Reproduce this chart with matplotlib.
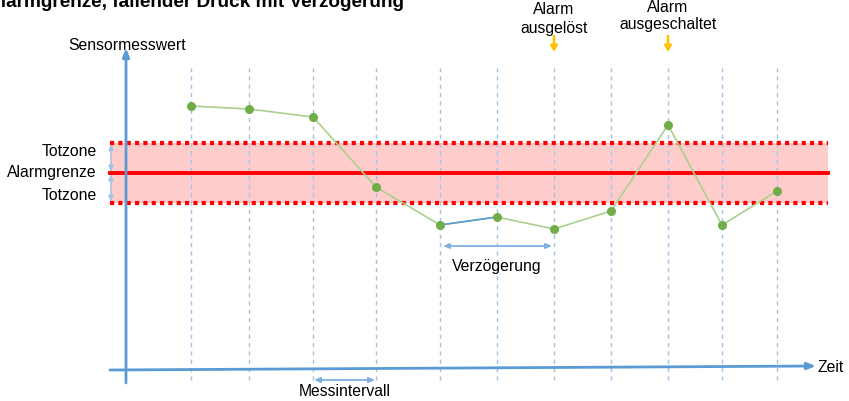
import matplotlib
matplotlib.use("Agg")
from matplotlib import pyplot as plt

plt.rcParams['font.family'] = ['Liberation Sans', 'DejaVu Sans']

# Messzeitpunkte und Sensorwerte
zeiten = [191, 249, 313, 376, 440, 497, 554, 611, 668, 722, 777]
werte = [262, 259, 251, 181, 143, 151, 139, 157, 243, 143, 177]
alarmgrenze = 195
totzone = 30
alarm_an = 554
alarm_aus = 668

blau = '#5b9bd5'
hellblau = '#9dc3e6'
gruen = '#70ad47'
hellgruen = '#a9d18e'
rot = '#ff0000'
orange = '#ffc000'
fs = 11.3

fig = plt.figure(figsize=(8.49, 4.01), dpi=100)
ax = fig.add_axes([0, 0, 1, 1])
ax.set_xlim(0, 849)
ax.set_ylim(-33, 368)
ax.axis('off')

# Totzone
ax.fill_between([110, 828], alarmgrenze - totzone, alarmgrenze + totzone,
                color='#ffcccc', lw=0, zorder=1)
for yy in (alarmgrenze - totzone, alarmgrenze + totzone):
    ax.plot([110, 828], [yy, yy], color=rot, lw=3, ls=(0, (1, 1)), zorder=3)
ax.plot([110, 828], [alarmgrenze, alarmgrenze], color=rot, lw=2.8, zorder=3)

# Messzeitpunkte
for t in zeiten:
    ax.plot([t, t], [-12, 300], color=hellblau, lw=1, ls=(0, (3, 3)), zorder=2)

# Achsen
achse = dict(arrowstyle='-|>,head_width=0.2,head_length=0.5',
             color=blau, lw=2, shrinkA=0, shrinkB=0)
ax.annotate('', xy=(126, 320), xytext=(126, -15), arrowprops=achse, zorder=4)
ax.annotate('', xy=(816, 2), xytext=(110, -2), arrowprops=achse, zorder=4)
ax.text(818, 1, 'Zeit', fontsize=fs, va='center', ha='left')
ax.text(127, 323, 'Sensormesswert', fontsize=fs, va='center', ha='center')

# Messwerte
ax.plot(zeiten, werte, color=hellgruen, lw=1.2, zorder=5)
ax.plot(zeiten[4:6], werte[4:6], color=blau, lw=1.2, zorder=5)
ax.plot(zeiten, werte, 'o', color=gruen, ms=5.5, zorder=6)

# Beschriftung links
ax.text(97, 217, 'Totzone', fontsize=fs, ha='right', va='center')
ax.text(97, 196, 'Alarmgrenze', fontsize=fs, ha='right', va='center')
ax.text(97, 173, 'Totzone', fontsize=fs, ha='right', va='center')
pfeil2 = dict(arrowstyle='<|-|>,head_width=0.15,head_length=0.35', color=hellblau, lw=1,
              shrinkA=0, shrinkB=0)
ax.annotate('', xy=(111, alarmgrenze + totzone - 1), xytext=(111, alarmgrenze + 1), arrowprops=pfeil2)
ax.annotate('', xy=(111, alarmgrenze - 1), xytext=(111, alarmgrenze - totzone + 1), arrowprops=pfeil2)

# Verzögerung / Messintervall
pfeil3 = dict(pfeil2, color='#7fb0e0', lw=1.3)
ax.annotate('', xy=(zeiten[6] - 2, 122), xytext=(zeiten[4] + 3, 122), arrowprops=pfeil3)
ax.text((zeiten[4] + zeiten[6]) / 2, 101, 'Verzögerung', fontsize=fs, ha='center', va='center')
ax.annotate('', xy=(zeiten[3] - 1, -12), xytext=(zeiten[2] + 1, -12), arrowprops=pfeil3)
ax.text((zeiten[2] + zeiten[3]) / 2, -24, 'Messintervall', fontsize=fs, ha='center', va='center')

# Alarm-Markierungen
pfeil_o = dict(arrowstyle='-|>,head_width=0.2,head_length=0.35', color=orange, lw=1.8,
               shrinkA=0, shrinkB=0)
ax.annotate('', xy=(alarm_an, 316), xytext=(alarm_an, 332), arrowprops=pfeil_o)
ax.annotate('', xy=(alarm_aus, 316), xytext=(alarm_aus, 332), arrowprops=pfeil_o)
ax.text(alarm_an, 349, 'Alarm\nausgelöst', fontsize=fs, ha='center', va='center', linespacing=1.25)
ax.text(alarm_aus, 352, 'Alarm\nausgeschaltet', fontsize=fs, ha='center', va='center', linespacing=1.25)

# Titel (oben abgeschnitten)
ax.text(-13, 361, 'Alarmgrenze, fallender Druck mit Verzögerung', fontsize=13.7,
        fontweight='bold', ha='left', va='baseline')

fig.savefig('out.png', dpi=100)
